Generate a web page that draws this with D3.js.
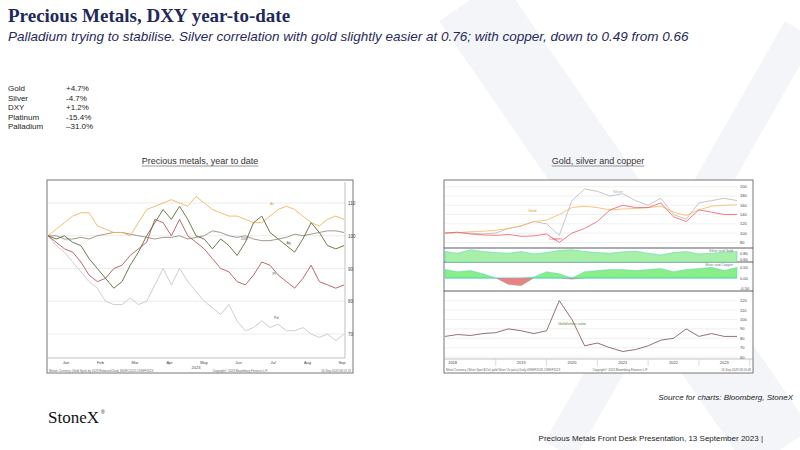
<!DOCTYPE html>
<html><head><meta charset="utf-8">
<script src="https://cdn.jsdelivr.net/npm/d3@7"></script>
<style>body{margin:0;background:#fff}svg{font-family:Arial,"Liberation Sans",sans-serif}</style>
</head><body><svg id="c" width="800" height="450"></svg>
<script>
// YTD performance table
var metals = ["Gold","Silver","DXY","Platinum","Palladium"];
var ytd = ["+4.7%","-4.7%","+1.2%","-15.4%","\u201331.0%"];

// left chart: rebased to 100, weekly 2023
var weeks = d3.range(37);
var monthLabels = ["Jan","Feb","Mar","Apr","May","Jun","Jul","Aug","Sep"];
var goldYtd = [100,102,104,106,107,107,103,102,101,101,100,104,108,109,110,111,110,109,112,110,108,107,106,106,105,104,104,106,108,109,108,106,104,103,105,106,105];
var dxyYtd = [100,100,99,99,99.5,99,100,100.5,101,101,100.5,100,99.5,99,99.5,99.5,100,99,99.5,100,101.5,101,100,99.5,100,99,98.5,98.5,99,99.5,100.5,100,100.5,101,101.5,101.5,101];
var silverYtd = [100,99,100,98,97,93,90,87,84,86,91,95,100,104,108,105,109,105,100,99,96,99,97,94,98,104,106,101,99,97,95,99,104,101,97,96,97];
var platYtd = [100,98,96,95,92,88,86,87,90,91,94,96,98,105,104,100,105,100,98,96,93,90,89,86,85,88,92,91,88,86,84,87,91,86,85,84,85];
var pallYtd = [100,97,95,92,89,86,84,80,79,79,81,79,80,85,90,85,90,86,83,80,78,76,79,74,71,72,74,72,73,71,71,72,70,69,70,68,70];

// right chart: quarterly from 2018
var qtrs = d3.range(2018, 2023.76, 0.25);
var goldIdx = [100,101,103,104,106,110,116,125,128,140,155,158,155,150,152,153,155,158,145,138,150,158,160,161];
var silverIdx = [100,101,100,98,100,110,115,125,120,95,170,195,190,180,185,170,160,175,140,130,165,170,175,170];
var copperIdx = [100,102,98,96,95,97,93,94,98,80,100,110,125,150,160,155,155,165,135,125,150,145,140,140];
var corrSG = [0.85,0.8,0.9,0.85,0.82,0.8,0.85,0.78,0.82,0.88,0.9,0.85,0.82,0.8,0.84,0.86,0.8,0.75,0.82,0.85,0.78,0.8,0.83,0.85];
var corrSC = [0.4,0.3,0.35,0.2,0.0,-0.3,-0.35,0.05,0.3,0.2,-0.05,0.3,0.35,0.4,0.4,0.35,0.4,0.45,0.3,0.4,0.45,0.5,0.35,0.5];
var gsRatio = [82,84,83,85,86,90,88,85,88,120,100,72,75,70,66,68,72,78,80,90,82,85,82,82];
var yearLabels = [2018,2019,2020,2021,2022,2023];

var svg = d3.select("#c");
var navy = "#1f2a5a";

// watermark X
var wm = svg.append("g").attr("stroke","#f4f5f8").attr("stroke-linecap","butt");
wm.append("line").attr("x1",470).attr("y1",0).attr("x2",780).attr("y2",450).attr("stroke-width",75);
wm.append("line").attr("x1",800).attr("y1",30).attr("x2",560).attr("y2",450).attr("stroke-width",35);

svg.append("text").attr("x",8).attr("y",22).attr("font-family","Liberation Serif,serif").attr("font-weight","bold")
  .attr("font-size",19).attr("fill",navy).text("Precious Metals, DXY year-to-date");
svg.append("text").attr("x",8).attr("y",41).attr("font-style","italic").attr("font-size",13.5).attr("fill",navy)
  .text("Palladium trying to stabilise.  Silver correlation with gold slightly easier at 0.76; with copper, down to 0.49 from 0.66");

metals.forEach(function(m,i){
  svg.append("text").attr("x",8).attr("y",91+i*9.5).attr("font-size",8).attr("fill","#222").text(m);
  svg.append("text").attr("x",66).attr("y",91+i*9.5).attr("font-size",8).attr("fill","#222").text(ytd[i]);
});

function title(x,t){
  var tx = svg.append("text").attr("x",x).attr("y",164).attr("text-anchor","middle").attr("font-size",9).attr("fill","#333").text(t);
  var w = tx.node().getComputedTextLength();
  svg.append("line").attr("x1",x-w/2).attr("x2",x+w/2).attr("y1",166).attr("y2",166).attr("stroke","#555").attr("stroke-width",0.6);
}
title(200,"Precious metals, year to date");
title(598,"Gold, silver and copper");

function drawLine(g,xs,ys,x,y,col,w){
  g.append("path").datum(d3.zip(xs,ys)).attr("fill","none").attr("stroke",col).attr("stroke-width",w||0.9)
   .attr("d",d3.line().x(function(d){return x(d[0]);}).y(function(d){return y(d[1]);}));
}

// ---- left chart
var L = svg.append("g");
L.append("rect").attr("x",47).attr("y",180).attr("width",306).attr("height",193).attr("fill","#fff").attr("stroke","#777").attr("stroke-width",1);
var xl = d3.scaleLinear().domain([0,36]).range([48,344]);
var yl = d3.scaleLinear().domain([62.7,116.4]).range([358,182]);
[70,80,90,100,110].forEach(function(v){
  L.append("line").attr("x1",48).attr("x2",345).attr("y1",yl(v)).attr("y2",yl(v)).attr("stroke","#e4e4e4").attr("stroke-width",0.7);
  L.append("text").attr("x",348).attr("y",yl(v)+2).attr("font-size",4.5).attr("fill","#444").text(v);
});
L.append("line").attr("x1",345).attr("x2",345).attr("y1",182).attr("y2",358).attr("stroke","#999").attr("stroke-width",0.6);
L.append("line").attr("x1",48).attr("x2",345).attr("y1",358).attr("y2",358).attr("stroke","#999").attr("stroke-width",0.6);
drawLine(L,weeks,pallYtd,xl,yl,"#c8c8cc");
drawLine(L,weeks,dxyYtd,xl,yl,"#9a8c80");
drawLine(L,weeks,platYtd,xl,yl,"#b5585a");
drawLine(L,weeks,goldYtd,xl,yl,"#f4b45a");
drawLine(L,weeks,silverYtd,xl,yl,"#5e6b3a");
L.append("text").attr("x",xl(23.5)).attr("y",yl(98.6)).attr("font-size",3.5).attr("fill","#555").text("DXY");
L.append("text").attr("x",xl(29)).attr("y",yl(97.5)).attr("font-size",3.5).attr("fill","#555").text("Ag");
L.append("text").attr("x",xl(27.3)).attr("y",yl(88)).attr("font-size",3.5).attr("fill","#555").text("Pt");
L.append("text").attr("x",xl(27.5)).attr("y",yl(74.5)).attr("font-size",3.5).attr("fill","#555").text("Pd");
L.append("text").attr("x",xl(27)).attr("y",yl(109.3)).attr("font-size",3.5).attr("fill","#e0a040").text("Au");
var xm = d3.scaleLinear().domain([0,8]).range([66,342]);
monthLabels.forEach(function(m,i){
  L.append("text").attr("x",xm(i)).attr("y",363.5).attr("text-anchor","middle").attr("font-size",4).attr("fill","#444").text(m);
});
L.append("text").attr("x",196).attr("y",368.5).attr("text-anchor","middle").attr("font-size",4).attr("fill","#444").text("2023");
L.append("text").attr("x",49).attr("y",371.5).attr("font-size",3).attr("fill","#666").text("Metals Currency (Gold Spot)  dy 2023 Rebased  Daily 30DEC2022-13SEP2023");
L.append("text").attr("x",240).attr("y",371.5).attr("text-anchor","middle").attr("font-size",3).attr("fill","#666").text("Copyright\u00a9 2023 Bloomberg Finance L.P.");
L.append("text").attr("x",351).attr("y",371.5).attr("text-anchor","end").attr("font-size",3).attr("fill","#666").text("13-Sep-2023 08:22:23");

// ---- right chart
var R = svg.append("g");
R.append("rect").attr("x",444).attr("y",180).attr("width",309).attr("height",193).attr("fill","#fff").attr("stroke","#777").attr("stroke-width",1);
var xr = d3.scaleLinear().domain([2018,2023.75]).range([445,737]);
function axisR(y,vals,fmt){
  vals.forEach(function(v){
    R.append("line").attr("x1",445).attr("x2",737).attr("y1",y(v)).attr("y2",y(v)).attr("stroke","#e6e6e6").attr("stroke-width",0.6);
    R.append("text").attr("x",740).attr("y",y(v)+1.5).attr("font-size",4).attr("fill","#444").text(fmt(v));
  });
}
var y1 = d3.scaleLinear().domain([70,208]).range([247,183]);
axisR(y1,[80,100,120,140,160,180,200],String);
drawLine(R,qtrs,silverIdx,xr,y1,"#b8b8b8",0.8);
drawLine(R,qtrs,goldIdx,xr,y1,"#f6b85c",0.8);
drawLine(R,qtrs,copperIdx,xr,y1,"#ef5a6a",0.8);
R.append("text").attr("x",528).attr("y",212).attr("font-size",4).attr("fill","#e0a040").text("Gold");
R.append("text").attr("x",613).attr("y",193).attr("font-size",4).attr("fill","#aaa").text("Silver");
R.append("text").attr("x",549).attr("y",240).attr("font-size",4).attr("fill","#e05060").text("Copper");

var p2 = [248,262], p3 = [262,291], p4 = [291,359];
[248,262,291].forEach(function(y){ R.append("line").attr("x1",444).attr("x2",753).attr("y1",y).attr("y2",y).attr("stroke","#333").attr("stroke-width",0.8); });
var y2 = d3.scaleLinear().domain([0.55,0.95]).range([p2[1],p2[0]]);
R.append("path").datum(d3.zip(qtrs,corrSG)).attr("fill","#a8f0a8").attr("stroke","#40d0c0").attr("stroke-width",0.5)
 .attr("d",d3.area().x(function(d){return xr(d[0]);}).y0(p2[1]).y1(function(d){return y2(d[1]);}));
R.append("text").attr("x",740).attr("y",y2(0.8)+1.5).attr("font-size",4).attr("fill","#444").text("0.80");
R.append("text").attr("x",740).attr("y",y2(0.62)+1.5).attr("font-size",4).attr("fill","#444").text("0.60");
R.append("text").attr("x",733).attr("y",252).attr("text-anchor","end").attr("font-size",3.5).attr("fill","#777").text("Silver and Gold");

var y3 = d3.scaleLinear().domain([-0.6,0.75]).range([p3[1],p3[0]]);
var area3 = d3.area().x(function(d){return xr(d[0]);}).y0(y3(0)).y1(function(d){return y3(d[1]);});
R.append("path").datum(d3.zip(qtrs,corrSC.map(function(v){return Math.max(v,0);}))).attr("fill","#88ee88").attr("stroke","#40d0c0").attr("stroke-width",0.4).attr("d",area3);
R.append("path").datum(d3.zip(qtrs,corrSC.map(function(v){return Math.min(v,0);}))).attr("fill","#f08080").attr("stroke","#40d0c0").attr("stroke-width",0.4).attr("d",area3);
[[0.5,"0.50"],[0,"0.00"],[-0.5,"-0.50"]].forEach(function(t){
  R.append("text").attr("x",740).attr("y",y3(t[0])+1.5).attr("font-size",4).attr("fill","#444").text(t[1]);
});
R.append("text").attr("x",733).attr("y",266).attr("text-anchor","end").attr("font-size",3.5).attr("fill","#777").text("Silver and Copper");

var y4 = d3.scaleLinear().domain([58,126]).range([p4[1],p4[0]+4]);
axisR(y4,[60,70,80,90,100,110,120],String);
drawLine(R,qtrs,gsRatio,xr,y4,"#7a4a50",0.8);
R.append("text").attr("x",558).attr("y",325).attr("font-size",4).attr("fill","#6a7a40").text("Gold/silver ratio");
R.append("line").attr("x1",444).attr("x2",753).attr("y1",359).attr("y2",359).attr("stroke","#999").attr("stroke-width",0.6);
yearLabels.forEach(function(yr){
  var xx = xr(Math.min(yr+0.5,2023.55));
  if (yr===2018) xx = xr(2018.15);
  R.append("text").attr("x",xx).attr("y",364).attr("text-anchor","middle").attr("font-size",4).attr("fill","#444").text(yr);
  R.append("line").attr("x1",xr(yr+1)).attr("x2",xr(yr+1)).attr("y1",359).attr("y2",366).attr("stroke","#bbb").attr("stroke-width",0.5);
});
R.append("text").attr("x",446).attr("y",371).attr("font-size",3).attr("fill","#666").text("Metal Currency (Silver Spot $/Oz) gold Silver Oz pairs)  Daily 09SEP2018-13SEP2023");
R.append("text").attr("x",620).attr("y",371).attr("text-anchor","middle").attr("font-size",3).attr("fill","#666").text("Copyright\u00a9 2023 Bloomberg Finance L.P.");
R.append("text").attr("x",751).attr("y",371).attr("text-anchor","end").attr("font-size",3).attr("fill","#666").text("13-Sep-2023 08:24:48");

svg.append("text").attr("x",793).attr("y",400).attr("text-anchor","end").attr("font-style","italic").attr("font-size",8).attr("fill","#222").text("Source for charts: Bloomberg, StoneX");
svg.append("text").attr("x",48).attr("y",423).attr("font-family","Liberation Serif,serif").attr("font-size",17).attr("fill","#111").text("StoneX");
svg.append("text").attr("x",101).attr("y",414).attr("font-size",5).attr("fill","#111").text("\u00ae");
svg.append("text").attr("x",763).attr("y",441).attr("text-anchor","end").attr("font-size",8).attr("fill","#222").text("Precious Metals Front Desk Presentation, 13 September 2023 |");
</script></body></html>
